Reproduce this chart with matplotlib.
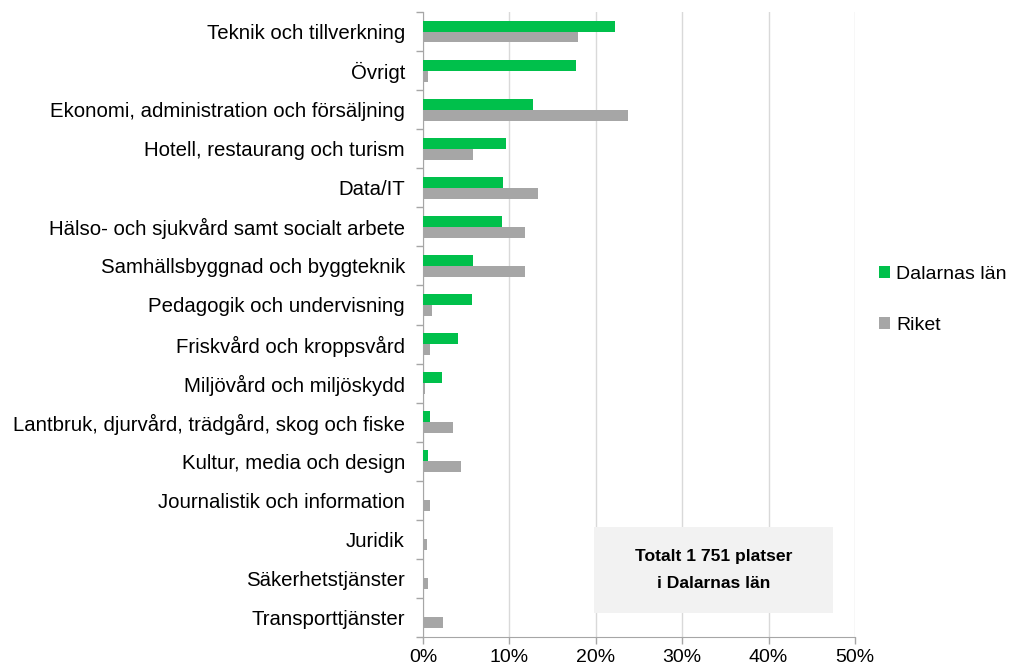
import matplotlib
matplotlib.use("Agg")
import matplotlib.pyplot as plt
from matplotlib.patches import Rectangle
import numpy as np

plt.rcParams['font.family'] = ['Liberation Sans', 'DejaVu Sans']

categories = [
    "Teknik och tillverkning",
    "Övrigt",
    "Ekonomi, administration och försäljning",
    "Hotell, restaurang och turism",
    "Data/IT",
    "Hälso- och sjukvård samt socialt arbete",
    "Samhällsbyggnad och byggteknik",
    "Pedagogik och undervisning",
    "Friskvård och kroppsvård",
    "Miljövård och miljöskydd",
    "Lantbruk, djurvård, trädgård, skog och fiske",
    "Kultur, media och design",
    "Journalistik och information",
    "Juridik",
    "Säkerhetstjänster",
    "Transporttjänster",
]
dalarna = [22.2, 17.7, 12.7, 9.6, 9.3, 9.1, 5.8, 5.7, 4.0, 2.2, 0.85, 0.6, 0.0, 0.0, 0.0, 0.0]
riket = [17.9, 0.6, 23.7, 5.8, 13.3, 11.8, 11.8, 1.0, 0.85, 0.2, 3.5, 4.35, 0.85, 0.5, 0.6, 2.3]
series_names = ["Dalarnas län", "Riket"]
xticks = [0, 10, 20, 30, 40, 50]
note = "Totalt 1 751 platser\ni Dalarnas län"

green = "#00C04B"
grey = "#A6A6A6"

fig = plt.figure(figsize=(10.12, 6.69), dpi=100)
ax = fig.add_axes([423/1012, 1-637/669, (855-423)/1012, (637-12)/669])

y = np.arange(len(categories))
h = 0.28
ax.barh(y - h/2, dalarna, height=h, color=green, label=series_names[0], zorder=3)
ax.barh(y + h/2, riket, height=h, color=grey, label=series_names[1], zorder=3)

ax.set_ylim(len(categories) - 0.5, -0.5)
ax.set_xlim(0, 50)
ax.set_xticks(xticks)
ax.set_xticklabels([f"{v}%" for v in xticks], fontsize=14)
ax.set_yticks(y)
ax.set_yticklabels(categories, fontsize=14.7)
ax.tick_params(axis='y', which='major', length=0, pad=13)
ax.set_yticks(np.arange(len(categories) + 1) - 0.5, minor=True)
ax.tick_params(axis='y', which='minor', length=5, color="#A6A6A6", width=1)
ax.tick_params(axis='x', length=5, color="#A6A6A6", width=1, pad=4)

ax.grid(axis='x', color="#D9D9D9", linewidth=1, zorder=0)
for s in ['top', 'right']:
    ax.spines[s].set_visible(False)
ax.spines['left'].set_color("#A6A6A6")
ax.spines['bottom'].set_color("#A6A6A6")

# Note box
bx0, bx1 = 594, 833
by0, by1 = 527, 613
fig.patches.append(Rectangle((bx0/1012, 1-by1/669), (bx1-bx0)/1012, (by1-by0)/669,
                             transform=fig.transFigure, facecolor="#F2F2F2",
                             edgecolor="none", zorder=5))
fig.text((bx0+bx1)/2/1012, 1-570/669, note, ha='center', va='center',
         fontsize=12.6, fontweight='bold', linespacing=1.95, zorder=6)

leg = fig.legend(loc='center left', bbox_to_anchor=(862/1012, 1-300/669),
                 frameon=False, fontsize=14, handlelength=0.55, handleheight=0.55,
                 handletextpad=0.3, labelspacing=1.75)

fig.savefig("out.png", dpi=100)
